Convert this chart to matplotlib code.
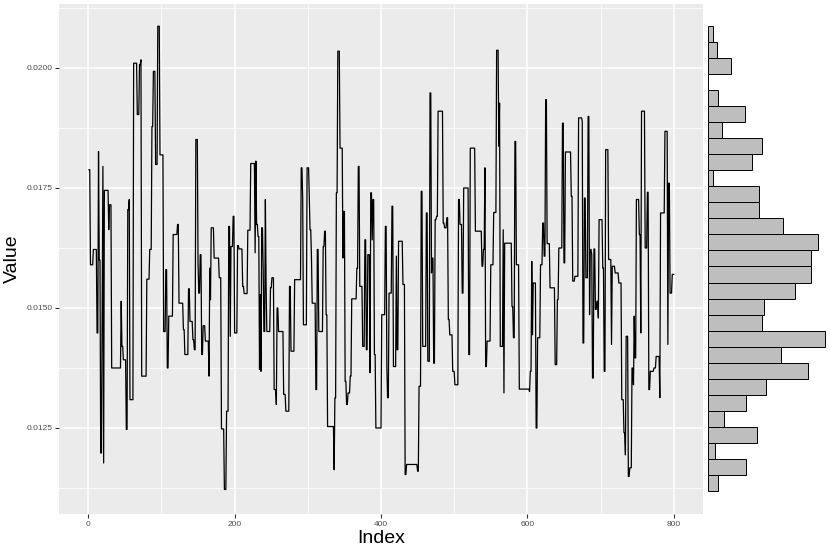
import numpy as np
import matplotlib.pyplot as plt

plt.rcParams['font.family'] = ['Liberation Sans', 'DejaVu Sans']

# step-like series: index where each level starts, and the level itself
change_idx = [
    0, 2, 6, 11, 13, 14, 16, 18, 19, 20, 21, 27, 28, 31, 44, 45, 47, 51, 53, 55,
    56, 61, 66, 69, 71, 72, 79, 83, 86, 88, 91, 94, 97, 102, 105, 107, 109, 115,
    121, 123, 129, 131, 136, 138, 142, 144, 146, 149, 150, 152, 154, 156, 159,
    164, 165, 166, 167, 171, 178, 181, 185, 188, 191, 193, 194, 197, 199, 203,
    205, 210, 212, 217, 221, 227, 228, 229, 231, 233, 234, 235, 236, 238, 239,
    241, 242, 243, 248, 250, 253, 256, 257, 259, 266, 269, 274, 276, 281, 290,
    292, 293, 298, 301, 302, 304, 305, 310, 312, 314, 320, 322, 324, 326, 335,
    336, 338, 340, 343, 347, 348, 350, 352, 354, 357, 359, 366, 368, 370, 374,
    377, 379, 381, 384, 385, 387, 388, 390, 392, 400, 405, 407, 408, 410, 414,
    416, 420, 421, 423, 429, 432, 434, 449, 451, 454, 456, 461, 463, 466, 468,
    469, 471, 473, 475, 477, 484, 486, 489, 491, 493, 497, 500, 505, 507, 510,
    512, 519, 521, 528, 537, 539, 541, 542, 544, 549, 553, 557, 560, 561, 562,
    566, 567, 568, 578, 580, 582, 584, 588, 602, 603, 605, 606, 607, 611, 613,
    617, 620, 622, 624, 626, 630, 637, 640, 642, 647, 649, 651, 659, 661, 664,
    669, 674, 675, 677, 679, 682, 684, 685, 687, 688, 690, 692, 694, 696, 697,
    702, 704, 706, 710, 714, 715, 719, 724, 728, 731, 733, 734, 737, 739, 742,
    744, 745, 746, 748, 752, 754, 755, 760, 763, 765, 767, 772, 775, 780, 781,
    787, 791, 792, 794, 797,
]
levels = [
    0.01788, 0.01590, 0.01622, 0.01448, 0.01826, 0.01600, 0.01198, 0.01500, 0.01795, 0.01177,
    0.01745, 0.01663, 0.01715, 0.01375, 0.01514, 0.01420, 0.01392, 0.01247, 0.01705, 0.01726,
    0.01309, 0.02010, 0.01903, 0.02007, 0.02017, 0.01358, 0.01560, 0.01622, 0.01878, 0.01993,
    0.01799, 0.02087, 0.01819, 0.01451, 0.01580, 0.01375, 0.01483, 0.01653,
    0.01674, 0.01510, 0.01455, 0.01403, 0.01540, 0.01472, 0.01434, 0.01413, 0.01851, 0.01594,
    0.01531, 0.01611, 0.01403, 0.01463, 0.01431,
    0.01358, 0.01583, 0.01517, 0.01667, 0.01604, 0.01563, 0.01248, 0.01122, 0.01285, 0.01670,
    0.01441, 0.01628, 0.01691, 0.01448, 0.01630,
    0.01623, 0.01545, 0.01530, 0.01662, 0.01801, 0.01615, 0.01806, 0.01674, 0.01649, 0.01372,
    0.01528, 0.01368, 0.01667, 0.01580, 0.01451,
    0.01726, 0.01545, 0.01451, 0.01542, 0.01563, 0.01330, 0.01299, 0.01500, 0.01451, 0.01320,
    0.01285, 0.01545, 0.01410, 0.01559, 0.01792,
    0.01726, 0.01465, 0.01792, 0.01733, 0.01663, 0.01604, 0.01510, 0.01330, 0.01622, 0.01451,
    0.01628, 0.01660, 0.01486, 0.01253, 0.01163,
    0.01313, 0.01740, 0.02035, 0.01833, 0.01604, 0.01701, 0.01347, 0.01299, 0.01323, 0.01358,
    0.01519, 0.01583, 0.01795, 0.01545, 0.01420,
    0.01642, 0.01413, 0.01611, 0.01365, 0.01740, 0.01642, 0.01726, 0.01403, 0.01250, 0.01486,
    0.01670, 0.01378, 0.01313, 0.01531, 0.01712,
    0.01378, 0.01608, 0.01413, 0.01639, 0.01549, 0.01153, 0.01174, 0.01160, 0.01337, 0.01743,
    0.01420, 0.01698, 0.01389, 0.01948, 0.01573,
    0.01604, 0.01385, 0.01684, 0.01691, 0.01910, 0.01677, 0.01667, 0.01688, 0.01476, 0.01444,
    0.01368, 0.01340, 0.01726, 0.01674, 0.01531,
    0.01750, 0.01403, 0.01833, 0.01660, 0.01587, 0.01622, 0.01792, 0.01378, 0.01431, 0.01590,
    0.01699, 0.02037, 0.01837, 0.01927, 0.01420,
    0.01663, 0.01323, 0.01635, 0.01503, 0.01438, 0.01847, 0.01590, 0.01331, 0.01326, 0.01368,
    0.01597, 0.01444, 0.01552, 0.01250, 0.01438,
    0.01590, 0.01677, 0.01608, 0.01934, 0.01634, 0.01542, 0.01382, 0.01517, 0.01625, 0.01885,
    0.01594, 0.01825, 0.01733, 0.01556, 0.01566,
    0.01896, 0.01889, 0.01427, 0.01729, 0.01563, 0.01899, 0.01486, 0.01622, 0.01611, 0.01354,
    0.01623, 0.01497, 0.01514, 0.01479, 0.01684,
    0.01583, 0.01368, 0.01830, 0.01601, 0.01424, 0.01587, 0.01573, 0.01552, 0.01309, 0.01240,
    0.01194, 0.01441, 0.01149, 0.01167, 0.01375,
    0.01340, 0.01483, 0.01396, 0.01726, 0.01653, 0.01448, 0.01910, 0.01625, 0.01741, 0.01330,
    0.01368, 0.01375, 0.01399, 0.01313, 0.01698,
    0.01868, 0.01424, 0.01760, 0.01531, 0.01570,
]
n_points = 800

# marginal histogram counts, listed from the top bin to the bottom bin
hist_counts = [3, 5, 13, 0, 6, 21, 8, 31, 25, 3, 29, 29, 43, 63, 59, 59, 50, 32, 31, 67,
               42, 57, 33, 22, 9, 28, 4, 22, 6]
hist_top = 0.020875
hist_bottom = 0.011188

run_lengths = np.diff(change_idx + [n_points])
values = np.repeat(levels, run_lengths)
index = np.arange(1, n_points + 1)

fig = plt.figure(figsize=(8.3, 5.52), dpi=100)
ax = fig.add_axes([59 / 830, 38 / 552, 644 / 830, 510 / 552])
ax_h = fig.add_axes([702 / 830, 38 / 552, 129 / 830, 510 / 552])

# main panel, ggplot grey theme look
ax.set_facecolor('#EBEBEB')
ax.plot(index, values, color='black', linewidth=0.9)
ax.set_xlim(-40, 840)
ax.set_ylim(0.010708, 0.021333)
ax.set_xticks([0, 200, 400, 600, 800])
ax.set_yticks([0.0125, 0.0150, 0.0175, 0.0200])
ax.set_yticklabels(['0.0125', '0.0150', '0.0175', '0.0200'])
ax.set_xticks([100, 300, 500, 700], minor=True)
ax.set_yticks([0.01125, 0.01375, 0.01625, 0.01875, 0.02125], minor=True)
ax.grid(which='major', color='white', linewidth=1.1)
ax.grid(which='minor', color='white', linewidth=0.55)
ax.set_axisbelow(True)
for s in ax.spines.values():
    s.set_visible(False)
ax.tick_params(which='major', length=2.8, width=0.8, color='#333333',
               labelsize=6, labelcolor='#4D4D4D', pad=2)
ax.tick_params(which='minor', length=0)
ax.set_xlabel('Index', fontsize=14, labelpad=2)
ax.set_ylabel('Value', fontsize=14, labelpad=4)

# marginal histogram
edges = np.linspace(hist_bottom, hist_top, len(hist_counts) + 1)
ax_h.barh(edges[:-1], hist_counts[::-1], height=np.diff(edges), align='edge',
          color='#BEBEBE', edgecolor='black', linewidth=0.7)
ax_h.set_ylim(ax.get_ylim())
ax_h.set_xlim(-3.35, 70.35)
ax_h.axis('off')

fig.savefig('out.png', dpi=100)
